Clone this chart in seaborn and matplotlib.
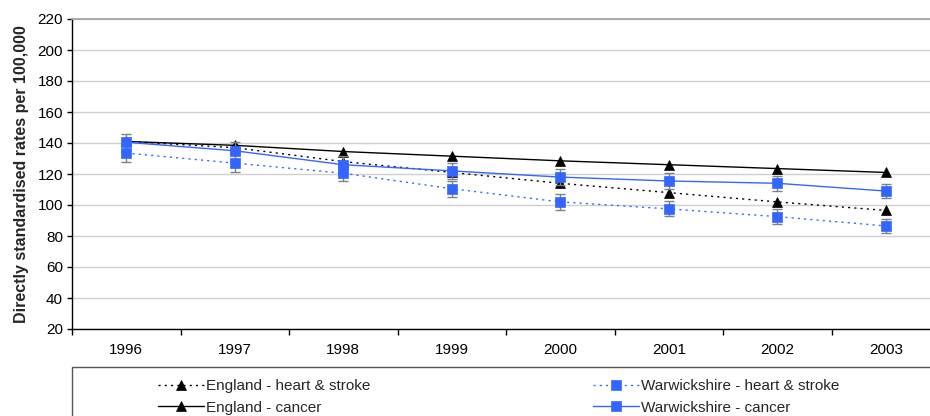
import numpy as np
import pandas as pd
import matplotlib
matplotlib.use("Agg")
import matplotlib.pyplot as plt
from matplotlib.patches import Rectangle
import seaborn as sns

years = ["1996", "1997", "1998", "1999", "2000", "2001", "2002", "2003"]
eng_heart = [141, 137, 128, 121, 114, 108, 102, 96.5]
eng_cancer = [141, 138.5, 134.5, 131.5, 128.5, 126, 123.5, 121]
war_heart = [133.5, 127, 120.5, 110.5, 102, 97.5, 92.5, 86.5]
war_cancer = [140.5, 135, 126, 122, 118, 115.5, 114, 109]
war_heart_err = [5.5, 5.5, 5.3, 5.2, 5.0, 4.9, 4.7, 4.5]
war_cancer_err = [5.5, 5.4, 5.3, 5.2, 5.1, 5.0, 4.9, 4.8]

labels = ["England - heart & stroke", "England - cancer",
          "Warwickshire - heart & stroke", "Warwickshire - cancer"]

sns.set_style("white")
plt.rcParams["font.family"] = ["Liberation Sans", "DejaVu Sans"]

BLUE = "#3366FF"
dotted = (0, (1.5, 3))
FS = 11

fig = plt.figure(figsize=(9.3, 4.16), dpi=100)
ax = fig.add_axes([72 / 930, 87 / 416, 868 / 930, 310 / 416])

x = np.arange(len(years))
series = [
    (eng_heart, labels[0], "black", dotted, "^", 7),
    (eng_cancer, labels[1], "black", "-", "^", 7),
]
for vals, lab, col, ls, mk, ms in series:
    df = pd.DataFrame({"x": x, "y": vals})
    sns.lineplot(data=df, x="x", y="y", ax=ax, color=col, linestyle=ls, lw=1,
                 marker=mk, markersize=ms, markeredgecolor=col,
                 markeredgewidth=0.5, label=lab, zorder=3)

ax.errorbar(x, war_heart, yerr=war_heart_err, fmt="none", ecolor="#808080",
            elinewidth=1, capsize=3.5, capthick=1, zorder=4, label="_nolegend_")
ax.errorbar(x, war_cancer, yerr=war_cancer_err, fmt="none", ecolor="#808080",
            elinewidth=1, capsize=3.5, capthick=1, zorder=4, label="_nolegend_")

series2 = [
    (war_heart, labels[2], BLUE, dotted, "s", 7),
    (war_cancer, labels[3], BLUE, "-", "s", 7),
]
for vals, lab, col, ls, mk, ms in series2:
    df = pd.DataFrame({"x": x, "y": vals})
    sns.lineplot(data=df, x="x", y="y", ax=ax, color=col, linestyle=ls, lw=1,
                 marker=mk, markersize=ms, markeredgecolor=col,
                 markeredgewidth=0.5, label=lab, zorder=5)

ax.set_xlim(-0.5, 7.5)
ax.set_ylim(20, 220)
ax.set_yticks(np.arange(20, 221, 20))
ax.set_xticks(x)
ax.set_xticklabels(years)
ax.set_xticks(np.arange(-0.5, 8, 1), minor=True)
ax.tick_params(axis="x", which="major", length=0, pad=10, labelsize=FS, colors="black")
ax.tick_params(axis="x", which="minor", length=4, width=1, direction="out",
               color="black", bottom=True)
ax.tick_params(axis="y", which="major", length=3.5, width=1, direction="out",
               pad=3, labelsize=FS, left=True, colors="black")
ax.grid(axis="y", color="#cfcfcf", lw=1)
ax.grid(axis="x", visible=False)
ax.set_axisbelow(True)
for s in ["left", "bottom"]:
    ax.spines[s].set_color("black")
    ax.spines[s].set_linewidth(1)
ax.spines["top"].set_color("#a6a6a6")
ax.spines["top"].set_linewidth(1.3)
ax.spines["right"].set_visible(False)

ax.set_xlabel("")
ax.set_ylabel("Directly standardised rates per 100,000", fontsize=11.5,
              fontweight="bold")
ax.yaxis.set_label_coords(-0.049, 0.5)

handles, labs = ax.get_legend_handles_labels()
lg = ax.get_legend()
if lg is not None:
    lg.remove()
hmap = dict(zip(labs, handles))

fig.patches.append(Rectangle((72 / 930, -0.1), 1.0, (416 - 367) / 416 + 0.1,
                             transform=fig.transFigure, fill=False,
                             edgecolor="#555555", lw=1))

common = dict(frameon=False, fontsize=FS, handlelength=3.0, handletextpad=0.15,
              borderpad=0, borderaxespad=0, labelspacing=0.5, loc="upper left")
leg1 = fig.legend([hmap[labels[0]], hmap[labels[1]]], labels[:2],
                  bbox_to_anchor=(158 / 930, (416 - 379) / 416), **common)
leg2 = fig.legend([hmap[labels[2]], hmap[labels[3]]], labels[2:],
                  bbox_to_anchor=(593 / 930, (416 - 379) / 416), **common)

fig.savefig("out.png", dpi=100)
